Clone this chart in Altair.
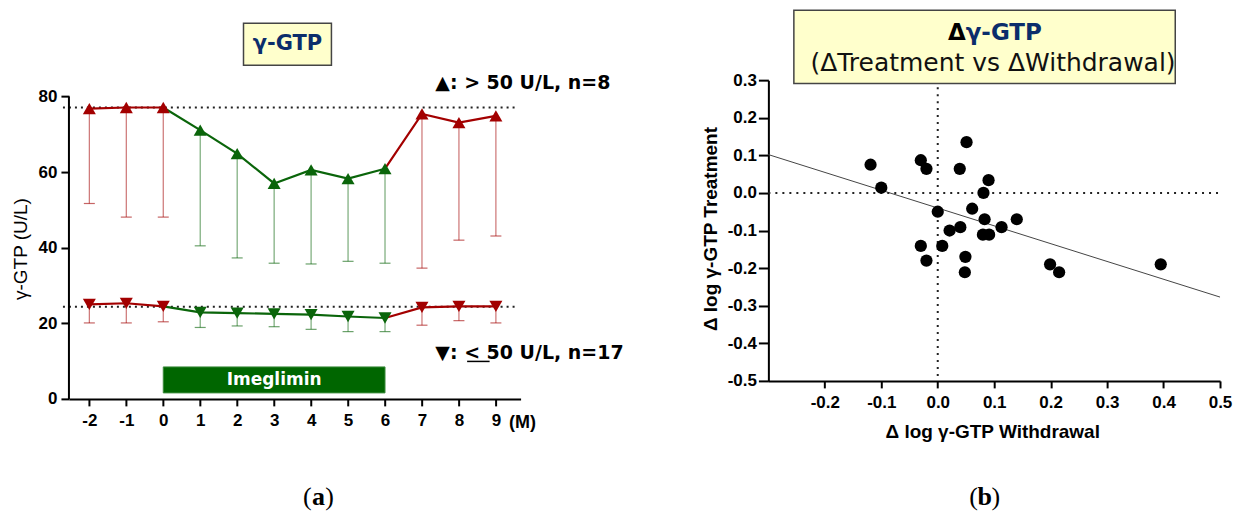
import altair as alt
import pandas as pd

# ---------------- panel (a): monthly γ-GTP, mean with lower SD bar ----------------
months = [-2, -1, 0, 1, 2, 3, 4, 5, 6, 7, 8, 9]
high_mean = [76.8, 77.1, 77.1, 71.1, 64.9, 57.0, 60.6, 58.3, 60.9, 75.4, 73.1, 74.9]
high_lower = [51.7, 48.1, 48.1, 40.5, 37.3, 35.9, 35.7, 36.4, 35.9, 34.6, 42.0, 43.1]
low_mean = [25.0, 25.3, 24.5, 22.9, 22.7, 22.5, 22.3, 21.8, 21.4, 24.2, 24.5, 24.5]
low_lower = [20.1, 20.1, 20.4, 18.9, 19.3, 19.1, 18.4, 17.8, 17.8, 19.5, 20.7, 20.1]
baseline_levels = [77.1, 24.4]
treatment_months = [0, 6]
y_ticks_a = [0, 20, 40, 60, 80]

# ---------------- panel (b): Δ log γ-GTP, withdrawal vs treatment ----------------
d_withdrawal = [-0.119, -0.100, -0.030, -0.020, 0.051, 0.039, 0.090, 0.081, 0.000,
                0.061, 0.083, 0.140, 0.040, 0.021, 0.113, 0.080, 0.091, -0.030,
                0.008, -0.020, 0.049, 0.048, 0.199, 0.215, 0.395]
d_treatment = [0.075, 0.014, 0.087, 0.064, 0.135, 0.064, 0.034, 0.000, -0.050,
               -0.042, -0.070, -0.070, -0.091, -0.100, -0.091, -0.111, -0.111, -0.141,
               -0.141, -0.180, -0.170, -0.211, -0.190, -0.211, -0.190]
fit_x = [-0.3, 0.5]
fit_y = [0.102, -0.277]
x_ticks_b = [-0.2, -0.1, 0.0, 0.1, 0.2, 0.3, 0.4, 0.5]
y_ticks_b = [-0.5, -0.4, -0.3, -0.2, -0.1, 0.0, 0.1, 0.2, 0.3]

RED = "#A30000"
GREEN = "#0A650A"
NAVY = "#0B2D6B"
BOX_FILL = "#FFFFCC"
SANS = "Liberation Sans"
WIDE = "DejaVu Sans"

t0, t1 = treatment_months


def phase(m):
    return "on" if t0 < m <= t1 else "off"


# long tables for panel (a)
pts = []
for name, means, lows in [("high", high_mean, high_lower), ("low", low_mean, low_lower)]:
    for m, mu, lo in zip(months, means, lows):
        pts.append({"series": name, "month": m, "mean": mu, "lower": lo, "phase": phase(m)})
pts = pd.DataFrame(pts)

segs = []
for name, means in [("high", high_mean), ("low", low_mean)]:
    for seg, keep, ph in [("pre", lambda m: m <= t0, "off"),
                          ("mid", lambda m: t0 <= m <= t1, "on"),
                          ("post", lambda m: m >= t1, "off")]:
        for m, mu in zip(months, means):
            if keep(m):
                segs.append({"key": name + seg, "month": m, "mean": mu, "phase": ph})
segs = pd.DataFrame(segs)

refs = pd.DataFrame({"level": baseline_levels})
bar = pd.DataFrame({"start": [t0], "end": [t1], "mid": [(t0 + t1) / 2]})
yspan = pd.DataFrame({"lo": [y_ticks_a[0]], "hi": [y_ticks_a[-1]]})
zero = pd.DataFrame({"z": [0.0]})
one = pd.DataFrame({"k": [0]})

MINUS = "replace(datum.label, '\u2212', '-')"
AXSTYLE = dict(title=None, labelFont=SANS, labelFontWeight="bold", labelFontSize=17,
               labelColor="black", tickColor="black", tickWidth=2, domainColor="black",
               domainWidth=2, grid=False, labelOverlap=False, labelFlush=False,
               labelExpr=MINUS)

# shared axis objects: every layer on a channel uses the same one
AX_XA = alt.Axis(values=months, tickSize=7, labelPadding=7, **AXSTYLE)
AX_YA = alt.Axis(values=y_ticks_a, domain=False, tickSize=8, labelPadding=4, **AXSTYLE)
AX_XB = alt.Axis(values=x_ticks_b, format=".1f", tickSize=7, labelPadding=7, **AXSTYLE)
AX_YB = alt.Axis(values=y_ticks_b, format=".1f", tickSize=10, labelPadding=2, **AXSTYLE)

LW, LH = 452, 319
color_a = alt.Color("phase:N", scale=alt.Scale(domain=["off", "on"], range=[RED, GREEN]), legend=None)
x_scale_a = alt.Scale(domain=[-2.552, 9.668], nice=False, zero=False)
y_scale_a = alt.Scale(domain=[0, 84.34], nice=False, zero=False)


def xa(field):
    return alt.X(field, type="quantitative", scale=x_scale_a, axis=AX_XA)


def ya(field):
    return alt.Y(field, type="quantitative", scale=y_scale_a, axis=AX_YA)


frame = alt.Chart(one).mark_rect(opacity=0).encode(
    x=alt.value(-68.3), x2=alt.value(1241 - 68.3), y=alt.value(-80), y2=alt.value(523 - 80))

drug_bar = alt.Chart(bar).mark_rect(color="#006600", stroke="#3C8C3C", strokeWidth=1).encode(
    x=xa("start"), x2="end", y=alt.value(287), y2=alt.value(313))
drug_text = alt.Chart(bar).mark_text(text="Imeglimin", font=WIDE, fontWeight="bold", fontSize=17,
                                     color="white", baseline="middle").encode(
    x=xa("mid"), y=alt.value(300))

ref_lines = alt.Chart(refs).mark_rule(strokeDash=[2, 4], strokeWidth=2, color="#222").encode(
    x=alt.value(-6), x2=alt.value(447), y=ya("level"))

err = alt.Chart(pts).mark_rule(strokeWidth=1.2, opacity=0.55).encode(
    x=xa("month"), y=ya("mean"), y2="lower", color=color_a)
caps = alt.Chart(pts).mark_point(shape="M-1,0L1,0", size=121, filled=False, strokeWidth=1.2,
                                 opacity=0.6).encode(x=xa("month"), y=ya("lower"), color=color_a)
lines = alt.Chart(segs).mark_line(strokeWidth=2.2).encode(
    x=xa("month"), y=ya("mean"), color=color_a, detail="key:N")
up = alt.Chart(pts).transform_filter(alt.datum.series == "high").mark_point(
    shape="triangle-up", filled=True, size=170, opacity=1).encode(
    x=xa("month"), y=ya("mean"), color=color_a)
down = alt.Chart(pts).transform_filter(alt.datum.series == "low").mark_point(
    shape="triangle-down", filled=True, size=170, opacity=1).encode(
    x=xa("month"), y=ya("mean"), color=color_a)

y_line = alt.Chart(yspan).mark_rule(color="black", strokeWidth=2).encode(
    x=alt.value(0), y=ya("lo"), y2="hi")


def label(text, x, y, **kw):
    style = dict(font=WIDE, fontSize=19, fontWeight="bold", color="black",
                 align="left", baseline="middle")
    style.update(kw)
    return alt.Chart(one).mark_text(text=text, **style).encode(x=alt.value(x), y=alt.value(y))


note_high = label("\u25b2: > 50 U/L, n=8", 366.7, 3.3)
note_low = label("\u25bc: < 50 U/L, n=17", 366.7, 272.7)
note_under = alt.Chart(one).mark_rule(color="black", strokeWidth=1.5).encode(
    x=alt.value(398.5), x2=alt.value(421), y=alt.value(281.5))

box_a = alt.Chart(one).mark_rect(fill=BOX_FILL, stroke="#444", strokeWidth=1.5).encode(
    x=alt.value(174.7), x2=alt.value(262.7), y=alt.value(-57), y2=alt.value(-15))
title_a = label("\u03b3-GTP", 218.7, -36, fontSize=21, color=NAVY, align="center")
ytitle_a = label("\u03b3-GTP (U/L)", -48.3, 169, font=SANS, fontSize=19, fontWeight="normal",
                 align="center", angle=270)
unit_a = label("(M)", 454, 343, font=SANS, fontSize=18, align="center")
cap_a1 = label("(", 243, 417, font="Liberation Serif", fontSize=26, fontWeight="normal", align="right")
cap_a2 = label("a", 249.7, 417, font="Liberation Serif", fontSize=26, align="center")
cap_a3 = label(")", 256.4, 417, font="Liberation Serif", fontSize=26, fontWeight="normal", align="left")

left = alt.layer(frame, drug_bar, drug_text, ref_lines, err, caps, lines, up, down, y_line,
                 note_high, note_low, note_under, box_a, title_a, ytitle_a, unit_a,
                 cap_a1, cap_a2, cap_a3).properties(width=LW, height=LH)

# ---------------- panel (b) ----------------
RW, RH = 452, 301
scatter = pd.DataFrame({"w": d_withdrawal, "t": d_treatment})
fit = pd.DataFrame({"w": fit_x, "t": fit_y})

x_scale_b = alt.Scale(domain=[-0.3, 0.5], nice=False, zero=False)
y_scale_b = alt.Scale(domain=[-0.5, 0.3], nice=False, zero=False)


def xb(field):
    return alt.X(field, type="quantitative", scale=x_scale_b, axis=AX_XB)


def yb(field):
    return alt.Y(field, type="quantitative", scale=y_scale_b, axis=AX_YB)


zero_v = alt.Chart(zero).mark_rule(strokeDash=[2, 5], strokeWidth=2, color="#222").encode(
    x=xb("z"), y=alt.value(0), y2=alt.value(RH))
zero_h = alt.Chart(zero).mark_rule(strokeDash=[2, 5], strokeWidth=2, color="#222").encode(
    y=yb("z"), x=alt.value(0), x2=alt.value(RW))
fit_line = alt.Chart(fit).mark_line(color="#444", strokeWidth=1).encode(x=xb("w"), y=yb("t"))
dots = alt.Chart(scatter).mark_circle(size=150, color="black", opacity=1).encode(x=xb("w"), y=yb("t"))

box_b = alt.Chart(one).mark_rect(fill=BOX_FILL, stroke="#444", strokeWidth=1.5).encode(
    x=alt.value(25.5), x2=alt.value(407.2), y=alt.value(-70), y2=alt.value(3.3))
title_b1 = label("\u0394", 197.5, -46.7, fontSize=23, align="right")
title_b2 = label("\u03b3-GTP", 197.5, -46.7, fontSize=23, color=NAVY, align="left")
title_b3 = label("(\u0394Treatment vs \u0394Withdrawal)", 224.8, -16.7, fontSize=25,
                 fontWeight="normal", color="#111", align="center")
ytitle_b = label("\u0394 log \u03b3-GTP Treatment", -57.8, 149, font=SANS, fontSize=19,
                 align="center", angle=270)
xtitle_b = label("\u0394 log \u03b3-GTP Withdrawal", 224.5, 351.7, font=SANS, fontSize=19,
                 align="center")
cap_b1 = label("(", 209.8, 417, font="Liberation Serif", fontSize=26, fontWeight="normal", align="right")
cap_b2 = label("b", 216.5, 417, font="Liberation Serif", fontSize=26, align="center")
cap_b3 = label(")", 223.2, 417, font="Liberation Serif", fontSize=26, fontWeight="normal", align="left")

right = alt.layer(fit_line, zero_v, zero_h, dots, box_b, title_b1, title_b2, title_b3,
                  ytitle_b, xtitle_b, cap_b1, cap_b2, cap_b3).properties(width=RW, height=RH)

chart = alt.hconcat(left, right, spacing=248, bounds="flush").properties(
    padding={"left": 0, "top": 0, "right": 0, "bottom": 0}
).configure_view(strokeWidth=0)

chart.save("out.html", embed_options={"renderer": "svg", "actions": False})
